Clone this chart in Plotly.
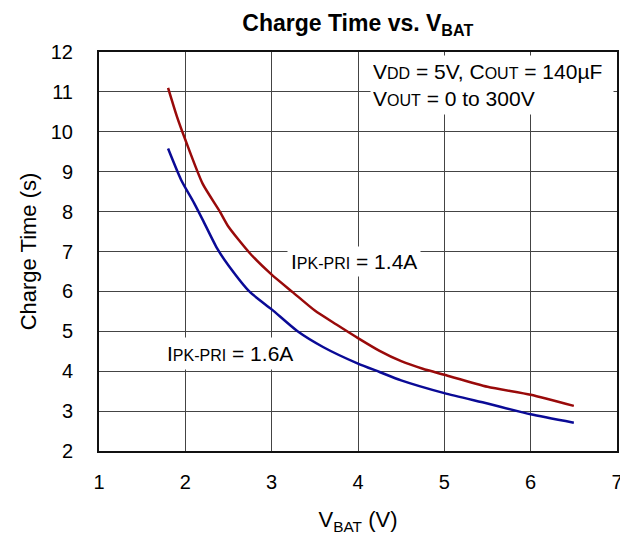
import plotly.graph_objects as go

# Data
vbat_14 = [1.8, 1.9, 2.0, 2.2, 2.4, 2.5, 2.75, 3.0, 3.25, 3.5, 3.75, 4.0, 4.25, 4.5, 4.75, 5.0, 5.5, 6.0, 6.5]
time_14 = [11.1, 10.4, 9.8, 8.7, 8.0, 7.62, 6.95, 6.42, 5.97, 5.52, 5.17, 4.83, 4.51, 4.25, 4.06, 3.91, 3.61, 3.41, 3.13]

vbat_16 = [1.8, 1.95, 2.1, 2.2, 2.37, 2.5, 2.75, 3.0, 3.3, 3.6, 4.0, 4.25, 4.5, 5.0, 5.5, 6.0, 6.5]
time_16 = [9.58, 8.8, 8.22, 7.8, 7.07, 6.65, 5.98, 5.55, 5.0, 4.6, 4.19, 3.98, 3.77, 3.45, 3.19, 2.92, 2.71]

x_ticks = [1, 2, 3, 4, 5, 6, 7]
y_ticks = [2, 3, 4, 5, 6, 7, 8, 9, 10, 11, 12]

FONT = "Liberation Sans, Arial, sans-serif"

fig = go.Figure()
fig.add_trace(go.Scatter(x=vbat_14, y=time_14, mode="lines",
                         line=dict(color="#990a0a", width=2.5, shape="spline", smoothing=0.6),
                         name="1.4A"))
fig.add_trace(go.Scatter(x=vbat_16, y=time_16, mode="lines",
                         line=dict(color="#0a0a96", width=2.5, shape="spline", smoothing=0.6),
                         name="1.6A"))

sm = "<span style='font-size:16px'>"
fig.add_annotation(x=4.14, y=11.17, xref="x", yref="y", xanchor="left", yanchor="middle",
                   align="left",
                   text=f"V{sm}DD</span> = 5V, C{sm}OUT</span> = 140µF<br>V{sm}OUT</span> = 0 to 300V",
                   showarrow=False, bgcolor="white", width=238, height=54, borderpad=2,
                   font=dict(size=21, color="black", family=FONT))
fig.add_annotation(x=3.954, y=6.74, xref="x", yref="y", xanchor="center", yanchor="middle",
                   text=f"I{sm}PK-PRI</span> = 1.4A",
                   showarrow=False, bgcolor="white", borderpad=3,
                   font=dict(size=21, color="black", family=FONT))
fig.add_annotation(x=2.517, y=4.456, xref="x", yref="y", xanchor="center", yanchor="middle",
                   text=f"I{sm}PK-PRI</span> = 1.6A",
                   showarrow=False, bgcolor="white", borderpad=4,
                   font=dict(size=21, color="black", family=FONT))

fig.update_layout(
    width=628, height=540,
    margin=dict(l=91, r=19, t=44, b=97, autoexpand=False),
    paper_bgcolor="white", plot_bgcolor="white",
    showlegend=False,
    font=dict(family=FONT, color="black", size=20),
    title=dict(text="<b>Charge Time vs. V<sub>BAT</sub></b>", x=0.557, xanchor="center",
               y=0.972, yanchor="middle", font=dict(size=23, family=FONT, color="black")),
)
fig.update_xaxes(range=[1, 7], tickvals=x_ticks, ticktext=[str(v) for v in x_ticks],
                 showgrid=True, gridcolor="#444444", gridwidth=1,
                 showline=True, mirror=True, linecolor="#111111", linewidth=2,
                 ticks="", ticklabelstandoff=12, zeroline=False, automargin=False,
                 title=dict(text="V<sub>BAT</sub> (V)", standoff=20, font=dict(size=22)))
fig.update_yaxes(range=[2, 12], tickvals=y_ticks, ticktext=[str(v) for v in y_ticks],
                 showgrid=True, gridcolor="#444444", gridwidth=1,
                 showline=True, mirror=True, linecolor="#111111", linewidth=2,
                 ticks="", ticklabelstandoff=20, zeroline=False, automargin=False,
                 title=dict(text="Charge Time (s)", standoff=8, font=dict(size=22)))

fig.write_html("out.html")
